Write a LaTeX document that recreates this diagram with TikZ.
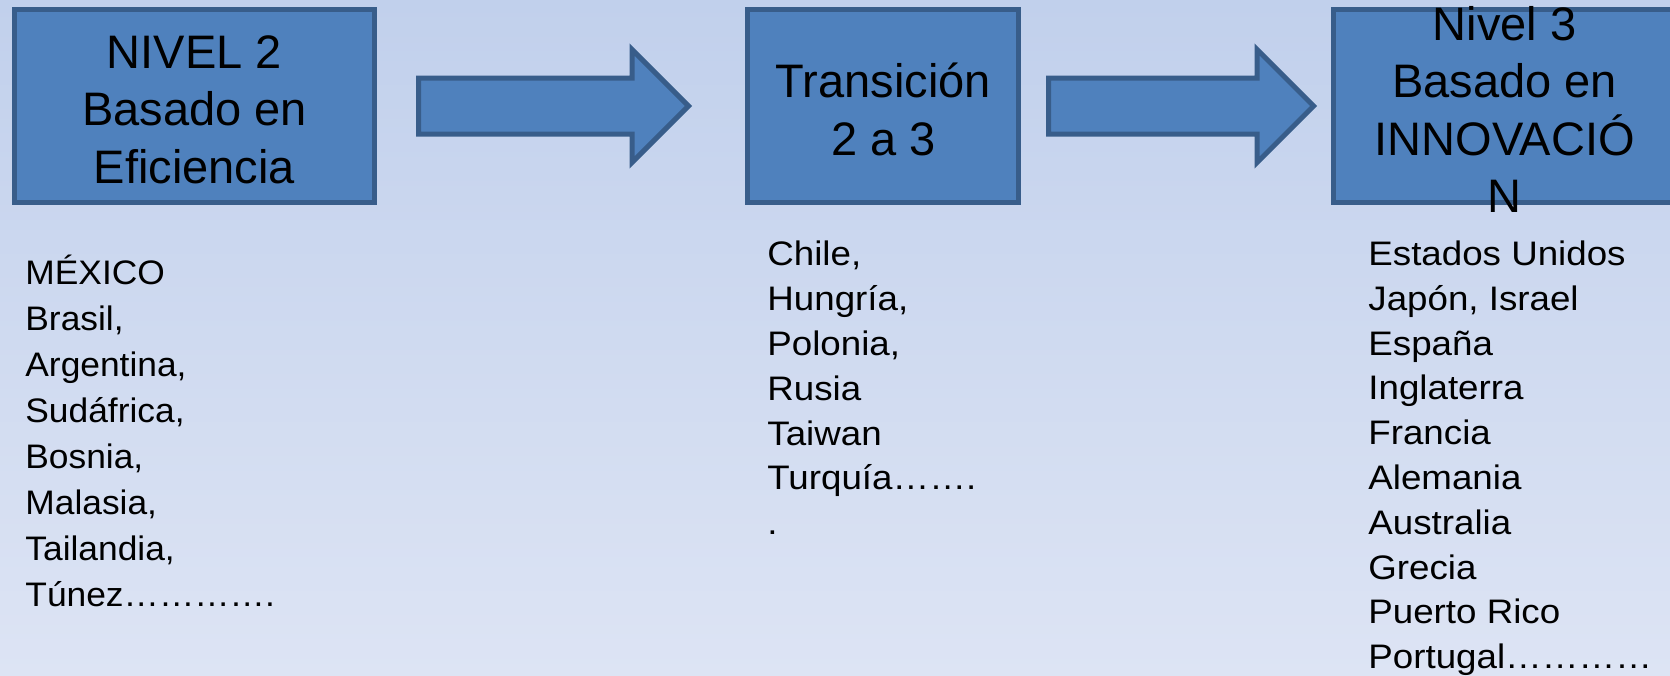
\documentclass[tikz,border=0pt]{standalone}
\usepackage{fontspec}
\setmainfont{Liberation Sans}
\newfontfamily\listaizq[FakeStretch=1.04]{Liberation Sans}
\newfontfamily\listader[FakeStretch=1.08]{Liberation Sans}
\usetikzlibrary{positioning,shapes.arrows}

\definecolor{fondoarriba}{RGB}{193,208,236}
\definecolor{fondoabajo}{RGB}{221,228,244}
\definecolor{relleno}{RGB}{79,129,189}
\definecolor{borde}{RGB}{56,93,138}

\begin{document}
\begin{tikzpicture}
  \tikzstyle{caja} = [draw=borde, fill=relleno, line width=2.5pt, rectangle, minimum height=96.5pt, inner sep=0pt]
  \tikzstyle{titulo} = [align=center, yshift=-1.8pt, font=\fontsize{23.5}{28.75}\selectfont]
  \tikzstyle{flecha} = [single arrow, draw=borde, fill=relleno, line width=2.5pt, single arrow tip angle=90, single arrow head extend=14.25pt, inner xsep=0pt, inner ysep=12.75pt]
  \tikzstyle{lista} = [align=left, anchor=base west, inner sep=0pt]

  \shade [top color=fondoarriba, bottom color=fondoabajo] (0,0) rectangle (835pt,-337.5pt);
  \useasboundingbox (0,0) rectangle (835pt,-337.5pt);

  \node [caja, minimum width=180pt] (nivel2) at (97.25pt,-53pt) {};
  \node [flecha, minimum height=135pt, right=19.5pt of nivel2] (flecha1) {};
  \node [caja, minimum width=135.5pt, right=26.6pt of flecha1] (transicion) {};
  \node [flecha, minimum height=132.5pt, right=12.4pt of transicion] (flecha2) {};
  \node [caja, minimum width=171.5pt, right=6.8pt of flecha2] (nivel3) {};

  \node [titulo] (nivel2texto) at (nivel2.center) {NIVEL 2\\Basado en\\Eficiencia};
  \node [titulo] (transiciontexto) at (transicion.center) {Transición\\2 a 3};
  \node [titulo] (nivel3texto) at (nivel3.center) {Nivel 3\\Basado en\\INNOVACIÓ\\N};

  % la ancla base queda en la ultima linea
  \node [lista, font=\listaizq\fontsize{17}{23}\selectfont] (paises2) at (12.5pt,-303pt) {MÉXICO\\Brasil,\\Argentina,\\Sudáfrica,\\Bosnia,\\Malasia,\\Tailandia,\\Túnez………….};
  \node [lista, font=\listader\fontsize{17}{22.4}\selectfont] (paisestr) at (383.5pt,-267.3pt) {Chile,\\Hungría,\\Polonia,\\Rusia\\Taiwan\\Turquía…….\\.};
  \node [lista, font=\listader\fontsize{17}{22.4}\selectfont] (paises3) at (684pt,-334.3pt) {Estados Unidos\\Japón, Israel\\España\\Inglaterra\\Francia\\Alemania\\Australia\\Grecia\\Puerto Rico\\Portugal…………};
\end{tikzpicture}
\end{document}
